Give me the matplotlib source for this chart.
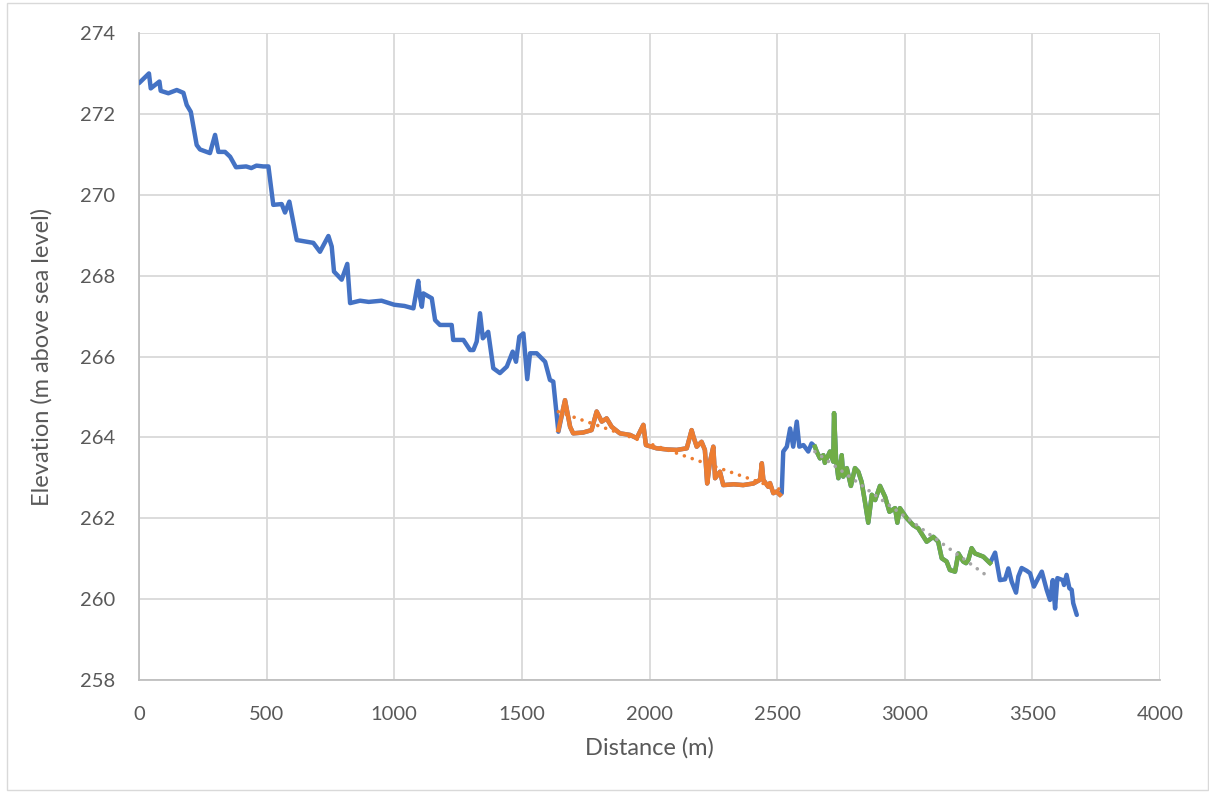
import numpy as np
import matplotlib
matplotlib.use("Agg")
import matplotlib.pyplot as plt
from matplotlib.patches import Rectangle

# ---- data (distance m, elevation m a.s.l.) ----
blue1_dist = [0, 39, 46, 80, 85, 115, 148, 174, 187, 203, 226, 239, 278, 298, 311, 337, 357, 380,
              420, 440, 460, 487, 507, 526, 559, 572, 589, 605, 618, 683, 709, 742, 755, 764, 794,
              816, 827, 866, 900, 950, 1000, 1040, 1075, 1094, 1100, 1108, 1114, 1147, 1160, 1179,
              1225, 1231, 1271, 1297, 1310, 1323, 1336, 1347, 1368, 1388, 1414, 1441, 1464, 1477,
              1490, 1506, 1521, 1532, 1558, 1591, 1610, 1623, 1643]
blue1_elev = [272.76, 273.0, 272.63, 272.8, 272.57, 272.51, 272.59, 272.52, 272.22, 272.05, 271.23,
              271.12, 271.03, 271.48, 271.06, 271.06, 270.94, 270.68, 270.70, 270.66, 270.72, 270.70,
              270.70, 269.75, 269.77, 269.56, 269.83, 269.30, 268.88, 268.81, 268.59, 268.98, 268.72,
              268.10, 267.90, 268.29, 267.32, 267.38, 267.35, 267.38, 267.28, 267.25, 267.19, 267.87,
              267.50, 267.23, 267.56, 267.44, 266.90, 266.78, 266.78, 266.41, 266.41, 266.16, 266.16,
              266.37, 267.07, 266.45, 266.61, 265.71, 265.59, 265.75, 266.12, 265.87, 266.49, 266.57,
              265.44, 266.08, 266.08, 265.87, 265.42, 265.38, 264.14]

orange_dist = [1643, 1669, 1689, 1701, 1740, 1773, 1793, 1813, 1832, 1852, 1884, 1924, 1950, 1976,
               1986, 2028, 2070, 2107, 2146, 2165, 2172, 2185, 2204, 2217, 2226, 2237, 2250, 2257,
               2276, 2289, 2330, 2367, 2407, 2433, 2440, 2446, 2465, 2472, 2485, 2498, 2511]
orange_elev = [264.18, 264.92, 264.26, 264.10, 264.12, 264.18, 264.64, 264.39, 264.47, 264.26,
               264.10, 264.06, 263.98, 264.31, 263.81, 263.73, 263.70, 263.69, 263.73, 264.18,
               264.02, 263.77, 263.89, 263.69, 262.86, 263.40, 263.77, 262.99, 263.15, 262.82,
               262.84, 262.82, 262.86, 262.95, 263.36, 262.95, 262.78, 262.87, 262.62, 262.66, 262.58]

blue2_dist = [2511, 2518, 2524, 2538, 2551, 2563, 2577, 2587, 2603, 2622, 2635, 2648]
blue2_elev = [262.58, 262.62, 263.65, 263.77, 264.22, 263.77, 264.39, 263.77, 263.81, 263.65,
              263.85, 263.77]

green_dist = [2648, 2655, 2668, 2681, 2687, 2707, 2720, 2723, 2731, 2740, 2753, 2759, 2773, 2789,
              2805, 2818, 2831, 2844, 2857, 2871, 2884, 2903, 2923, 2940, 2962, 2971, 2981, 3008,
              3033, 3053, 3086, 3112, 3131, 3145, 3164, 3177, 3197, 3210, 3229, 3240, 3249, 3262,
              3275, 3308, 3334]
green_elev = [263.77, 263.65, 263.48, 263.56, 263.37, 263.65, 263.40, 264.60, 263.44, 262.99,
              263.56, 263.03, 263.24, 262.80, 263.24, 263.15, 262.90, 262.41, 261.89, 262.58,
              262.45, 262.80, 262.53, 262.16, 262.25, 261.89, 262.25, 262.00, 261.83, 261.75,
              261.42, 261.54, 261.42, 261.01, 260.93, 260.72, 260.68, 261.13, 260.93, 260.89,
              260.97, 261.26, 261.13, 261.05, 260.89]

blue3_dist = [3334, 3354, 3373, 3393, 3406, 3419, 3436, 3445, 3458, 3478, 3491, 3506, 3523, 3537,
              3556, 3569, 3580, 3589, 3598, 3619, 3624, 3634, 3645, 3654, 3660, 3674]
blue3_elev = [260.89, 261.15, 260.47, 260.49, 260.76, 260.43, 260.16, 260.56, 260.77, 260.70,
              260.64, 260.31, 260.52, 260.68, 260.23, 259.98, 260.47, 259.77, 260.52, 260.47,
              260.35, 260.60, 260.27, 260.23, 259.90, 259.61]

x_ticks = [0, 500, 1000, 1500, 2000, 2500, 3000, 3500, 4000]
y_ticks = [258, 260, 262, 264, 266, 268, 270, 272, 274]

BLUE = "#4472C4"
ORANGE = "#ED7D31"
GREEN = "#70AD47"
GREY = "#A5A5A5"
TXT = "#595959"

plt.rcParams['font.family'] = ['Lato', 'DejaVu Sans']

fig = plt.figure(figsize=(12.09, 7.93), dpi=100)
ax = fig.add_axes([139/1209, 1-680/793, (1160-139)/1209, (680-33)/793])

LW = 3.2
# full profile in blue
all_d = blue1_dist + orange_dist[1:] + blue2_dist[1:] + green_dist[1:] + blue3_dist[1:]
all_e = blue1_elev + orange_elev[1:] + blue2_elev[1:] + green_elev[1:] + blue3_elev[1:]
ax.plot(all_d, all_e, color=BLUE, lw=LW, solid_joinstyle='round', solid_capstyle='round', zorder=3)
ax.plot(orange_dist, orange_elev, color=ORANGE, lw=LW, solid_joinstyle='round', zorder=4)
ax.plot(green_dist, green_elev, color=GREEN, lw=LW, solid_joinstyle='round', zorder=4)

# linear trendlines (least squares on the segment)
def trend(d, e):
    d = np.asarray(d, float); e = np.asarray(e, float)
    g = np.linspace(d[0], d[-1], 400)
    p = np.polyfit(g, np.interp(g, d, e), 1)
    return g, np.polyval(p, g)

tx, ty = trend(orange_dist, orange_elev)
ax.plot(tx, ty, color=ORANGE, lw=2.6, ls=(0, (0.01, 2.3)), dash_capstyle='round', zorder=5)
tx, ty = trend(green_dist, green_elev)
ax.plot(tx, ty, color=GREY, lw=2.6, ls=(0, (0.01, 2.3)), dash_capstyle='round', zorder=5)

ax.set_xlim(0, 4000)
ax.set_ylim(258, 274)
ax.set_xticks(x_ticks)
ax.set_yticks(y_ticks)
ax.grid(True, color="#D9D9D9", lw=1.3)
ax.set_axisbelow(True)
for s in ['top', 'right']:
    ax.spines[s].set_visible(False)
for s in ['left', 'bottom']:
    ax.spines[s].set_color("#BFBFBF")
    ax.spines[s].set_linewidth(1.3)
ax.tick_params(length=0, labelsize=14.5, labelcolor=TXT)
ax.tick_params(axis='y', pad=17)
ax.tick_params(axis='x', pad=19)
ax.set_xlabel("Distance (m)", fontsize=17, color=TXT, labelpad=10)
ax.set_ylabel("Elevation (m above sea level)", fontsize=17, color=TXT, labelpad=20)

fig.patches.append(Rectangle((7/1209, 3/793), 1 - 7/1209 - 1/1209, 1 - 3/793 - 3/793,
                             transform=fig.transFigure, fill=False, edgecolor="#D9D9D9", lw=1))

fig.savefig("out.png", dpi=100)
